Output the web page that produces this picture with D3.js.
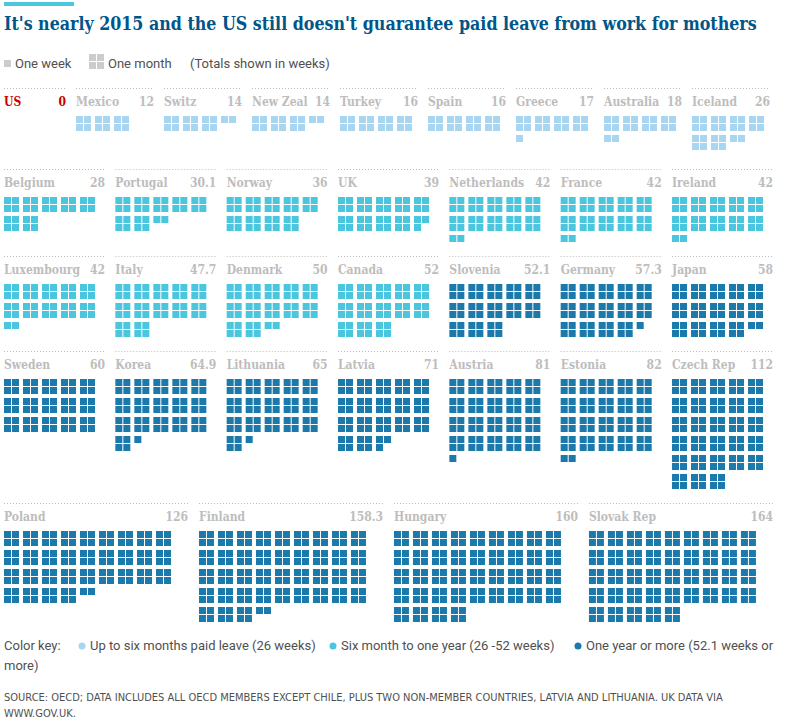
<!DOCTYPE html>
<html>
<head>
<meta charset="utf-8">
<script src="https://cdn.jsdelivr.net/npm/d3@7"></script>
<style>
  body { margin: 0; background: #fff; }
  svg { display: block; }
</style>
</head>
<body>
<div id="chart"></div>
<script>
// weeks of paid maternity leave, in the order shown
const countries = [
  "US", "Mexico", "Switz", "New Zeal", "Turkey", "Spain", "Greece", "Australia", "Iceland",
  "Belgium", "Portugal", "Norway", "UK", "Netherlands", "France", "Ireland",
  "Luxembourg", "Italy", "Denmark", "Canada", "Slovenia", "Germany", "Japan",
  "Sweden", "Korea", "Lithuania", "Latvia", "Austria", "Estonia", "Czech Rep",
  "Poland", "Finland", "Hungary", "Slovak Rep"
];
const weeks = [
  0, 12, 14, 14, 16, 16, 17, 18, 26,
  28, 30.1, 36, 39, 42, 42, 42,
  42, 47.7, 50, 52, 52.1, 57.3, 58,
  60, 64.9, 65, 71, 81, 82, 112,
  126, 158.3, 160, 164
];
const rowSizes = [9, 7, 7, 7, 4];
const tierLabels = [
  "Up to six months paid leave (26 weeks)",
  "Six month to one year (26 -52 weeks)",
  "One year or more (52.1 weeks or"
];
const tierLimits = [26, 52];

const W = 786, H = 722;
const tierColors = ["#a8d6f0", "#4bc6df", "#1b7aab"];
const rowTops = [88, 169, 256, 351, 503];
const serif = "'DejaVu Serif Condensed', 'DejaVu Serif', serif";
const sans = "Roboto, 'Noto Sans', sans-serif";

const svg = d3.select("#chart").append("svg")
  .attr("width", W)
  .attr("height", H);

// top accent bar and headline
svg.append("rect")
  .attr("x", 4).attr("y", 2).attr("width", 70).attr("height", 4)
  .attr("fill", "#4bc6df");

const title = svg.append("text")
  .attr("x", 4).attr("y", 30)
  .attr("font-family", serif)
  .attr("font-weight", "bold")
  .attr("font-size", 21)
  .attr("fill", "#005689")
  .text("It's nearly 2015 and the US still doesn't guarantee paid leave from work for mothers");
// shrink the headline to the width it takes in the original
const tl = title.node().getComputedTextLength();
if (tl > 753) title.attr("font-size", 21 * 753 / tl);

// key: one week / one month
const key = svg.append("g").attr("font-family", sans).attr("font-size", 13).attr("fill", "#505050");
key.append("rect").attr("x", 4).attr("y", 60).attr("width", 7).attr("height", 7).attr("fill", "#cccccc");
key.append("text").attr("x", 15).attr("y", 68).text("One week");
[0, 1, 2, 3].forEach(i => {
  key.append("rect")
    .attr("x", 89 + (i % 2) * 8).attr("y", 54 + Math.floor(i / 2) * 8)
    .attr("width", 7).attr("height", 7).attr("fill", "#cccccc");
});
key.append("text").attr("x", 108).attr("y", 68).text("One month");
key.append("text").attr("x", 190).attr("y", 68).text("(Totals shown in weeks)");

// up to 26 light, up to 52 mid, above that dark
const color = v => v <= tierLimits[0] ? tierColors[0] : v <= tierLimits[1] ? tierColors[1] : tierColors[2];

// block grid: a month is a 2x2 block of weeks
const blockX = d3.scaleLinear().domain([0, 1]).range([0, 19]);
const subX = d3.scaleLinear().domain([0, 1]).range([0, 8]);

let start = 0;
rowSizes.forEach((n, r) => {
  const names = countries.slice(start, start + n);
  const vals = weeks.slice(start, start + n);
  start += n;

  let panels;
  if (r === 0) {
    // the US panel is narrower than the rest of the first row
    const x = d3.scaleBand().domain(names.slice(1)).range([76, 770]).paddingInner(0.114);
    panels = names.map((name, i) => i === 0
      ? { name, v: vals[i], x: 4, w: 62 }
      : { name, v: vals[i], x: x(name), w: x.bandwidth() });
  } else {
    const pad = n === 4 ? 0.056 : 0.093;
    const x = d3.scaleBand().domain(names).range([4, 773]).paddingInner(pad);
    panels = names.map((name, i) => ({ name, v: vals[i], x: x(name), w: x.bandwidth() }));
  }

  const top = rowTops[r];
  const g = svg.selectAll(null).data(panels).enter().append("g")
    .attr("transform", d => `translate(${d.x},${top})`);

  g.append("line")
    .attr("x1", 0).attr("x2", d => d.w)
    .attr("y1", 0.5).attr("y2", 0.5)
    .attr("stroke", "#bbbbbb")
    .attr("stroke-dasharray", "1,2");

  g.append("text")
    .attr("x", 0).attr("y", 17.5)
    .attr("font-family", serif).attr("font-weight", "bold").attr("font-size", 12)
    .attr("fill", d => d.name === "US" ? "#c70000" : "#bdbdbd")
    .text(d => d.name);

  g.append("text")
    .attr("x", d => d.w).attr("y", 17.5)
    .attr("text-anchor", "end")
    .attr("font-family", serif).attr("font-weight", "bold").attr("font-size", 12)
    .attr("fill", d => d.name === "US" ? "#c70000" : "#bdbdbd")
    .text(d => d.v);

  g.each(function (d) {
    const perRow = Math.floor((d.w + 4) / 19);
    const n = Math.round(d.v);
    const cells = d3.range(n).map(k => {
      const b = Math.floor(k / 4), s = k % 4;
      return { col: b % perRow, row: Math.floor(b / perRow), sx: s % 2, sy: Math.floor(s / 2) };
    });
    d3.select(this).append("g")
      .attr("transform", "translate(0,28)")
      .selectAll("rect").data(cells).enter().append("rect")
      .attr("x", c => blockX(c.col) + subX(c.sx))
      .attr("y", c => blockX(c.row) + subX(c.sy))
      .attr("width", 7).attr("height", 7)
      .attr("fill", color(d.v));
  });
});

// colour key
const foot = svg.append("g").attr("font-family", sans).attr("font-size", 13).attr("fill", "#505050");
foot.append("text").attr("x", 4).attr("y", 650).text("Color key:");
const keyX = [82, 333, 578];
tierLabels.forEach((t, i) => {
  foot.append("circle").attr("cx", keyX[i]).attr("cy", 646).attr("r", 3.5).attr("fill", tierColors[i]);
  foot.append("text").attr("x", keyX[i] + 8).attr("y", 650).text(t);
});
foot.append("text").attr("x", 4).attr("y", 670).text("more)");

const src = svg.append("g").attr("font-family", "'Liberation Sans Narrow', 'DejaVu Sans Condensed', sans-serif")
  .attr("font-size", 11).attr("fill", "#505050");
src.append("text").attr("x", 4).attr("y", 701)
  .text("SOURCE: OECD; DATA INCLUDES ALL OECD MEMBERS EXCEPT CHILE, PLUS TWO NON-MEMBER COUNTRIES, LATVIA AND LITHUANIA. UK DATA VIA");
src.append("text").attr("x", 4).attr("y", 717).text("WWW.GOV.UK.");
</script>
</body>
</html>
